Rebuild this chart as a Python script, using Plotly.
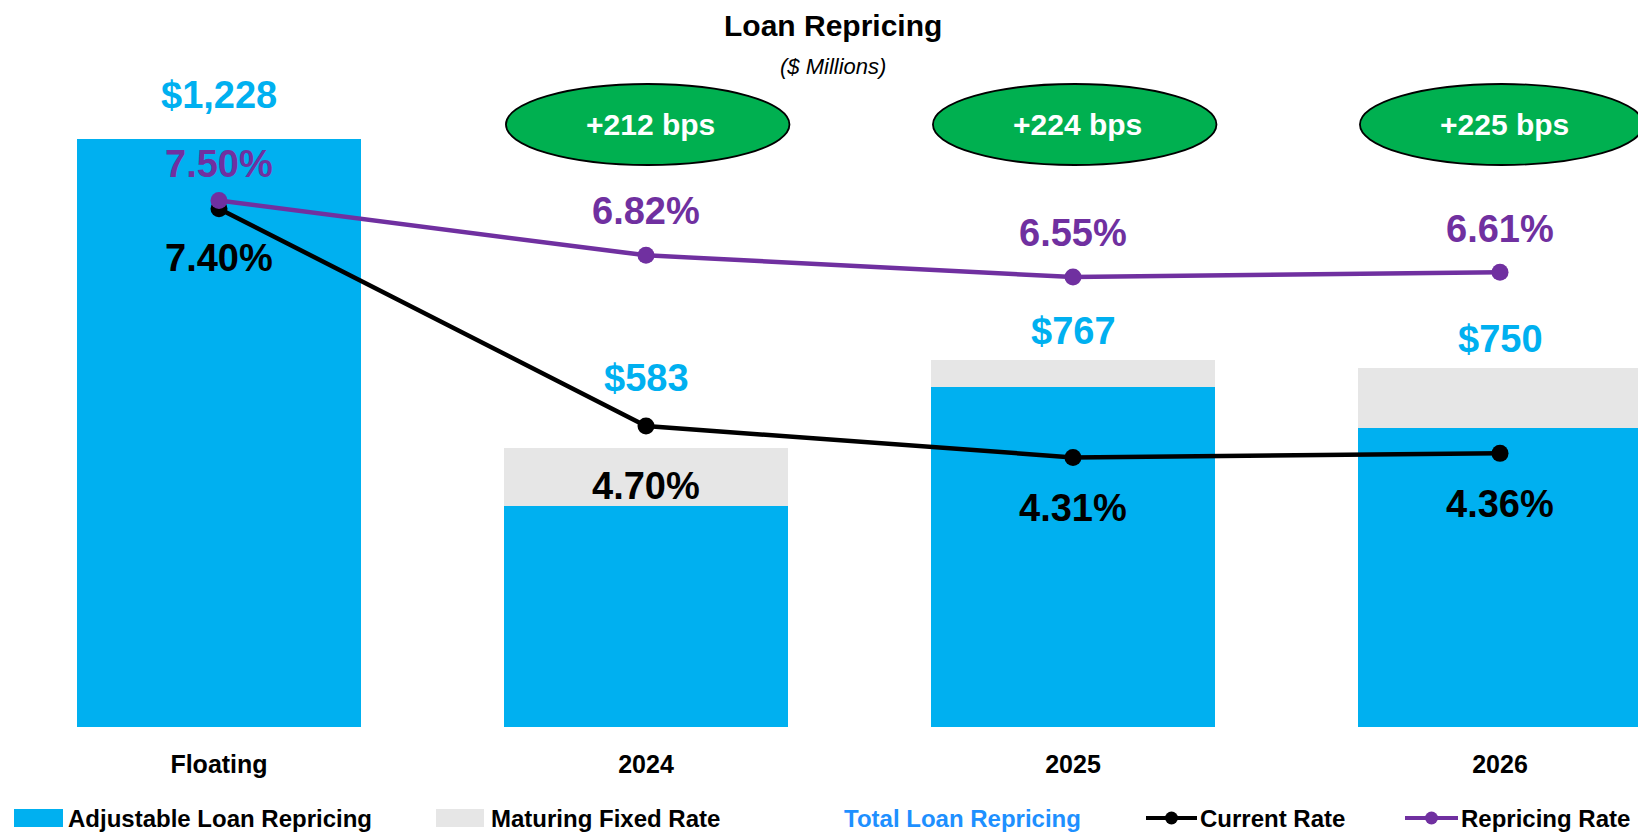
import plotly.graph_objects as go

categories = ["Floating", "2024", "2025", "2026"]
adjustable = [1228, 462, 711, 624]
maturing_fixed = [0, 121, 56, 126]
total = [1228, 583, 767, 750]
current_rate = [7.40, 4.70, 4.31, 4.36]
repricing_rate = [7.50, 6.82, 6.55, 6.61]

# label offsets (px) as placed on the original slide
total_shift = [44, 70, 29, 29]
rep_shift = [37, 44, 44, 43]
cur_shift = [-49, -60, -51, -51]

FONT = "Liberation Sans, Arial, sans-serif"
BLUE = "#00B0F0"
GRAY = "#E6E6E6"
PURPLE = "#7030A0"
GREEN = "#00B050"

W, H = 1638, 835
MB = 108
PH = H - MB
PW = W


def px(x):
    return x / PW


def py(y):
    return 1 - y / PH


fig = go.Figure()
fig.add_trace(go.Bar(x=categories, y=adjustable, name="Adjustable Loan Repricing",
                     marker=dict(color=BLUE, line=dict(width=0))))
fig.add_trace(go.Bar(x=categories, y=maturing_fixed, name="Maturing Fixed Rate",
                     marker=dict(color=GRAY, line=dict(width=0))))
fig.add_trace(go.Scatter(x=categories, y=current_rate, name="Current Rate", yaxis="y2",
                         mode="lines+markers", line=dict(color="black", width=4.5),
                         marker=dict(color="black", size=17)))
fig.add_trace(go.Scatter(x=categories, y=repricing_rate, name="Repricing Rate", yaxis="y2",
                         mode="lines+markers", line=dict(color=PURPLE, width=4.5),
                         marker=dict(color=PURPLE, size=17)))

annotations = []
shapes = []
for i, c in enumerate(categories):
    annotations.append(dict(x=i, y=total[i], yref="y", text=f"${total[i]:,}", showarrow=False,
                            yanchor="middle", yshift=total_shift[i],
                            font=dict(family=FONT, size=38, color=BLUE, weight="bold")))
    annotations.append(dict(x=i, y=repricing_rate[i], yref="y2", text=f"{repricing_rate[i]:.2f}%", showarrow=False,
                            yanchor="middle", yshift=rep_shift[i],
                            font=dict(family=FONT, size=38, color=PURPLE, weight="bold")))
    annotations.append(dict(x=i, y=current_rate[i], yref="y2", text=f"{current_rate[i]:.2f}%", showarrow=False,
                            yanchor="middle", yshift=cur_shift[i],
                            font=dict(family=FONT, size=38, color="black", weight="bold")))
    if i > 0:
        bps = round((repricing_rate[i] - current_rate[i]) * 100)
        shapes.append(dict(type="circle", xref="x", yref="paper", x0=i - 0.328, x1=i + 0.336,
                           y0=py(165), y1=py(84), fillcolor=GREEN, line=dict(color="black", width=1.8),
                           layer="above"))
        annotations.append(dict(x=i + 0.01, xref="x", y=py(124.5), yref="paper", text=f"+{bps} bps",
                                showarrow=False, yanchor="middle",
                                font=dict(family=FONT, size=30, color="white", weight="bold")))

# title
annotations.append(dict(x=px(833), y=py(26), xref="paper", yref="paper", text="Loan Repricing", showarrow=False,
                        yanchor="middle", font=dict(family=FONT, size=30, color="black", weight="bold")))
annotations.append(dict(x=px(833), y=py(66), xref="paper", yref="paper", text="<i>($ Millions)</i>", showarrow=False,
                        yanchor="middle", font=dict(family=FONT, size=22, color="black")))

# legend
LY = 818
leg_font = dict(family=FONT, size=24, color="black", weight="bold")
shapes.append(dict(type="rect", xref="paper", yref="paper", x0=px(14), x1=px(63), y0=py(827), y1=py(809),
                   fillcolor=BLUE, line=dict(width=0)))
annotations.append(dict(x=px(66), y=py(LY), xref="paper", yref="paper", xanchor="left", yanchor="middle",
                        text="Adjustable Loan Repricing", showarrow=False, font=leg_font))
shapes.append(dict(type="rect", xref="paper", yref="paper", x0=px(436), x1=px(484), y0=py(827), y1=py(809),
                   fillcolor=GRAY, line=dict(width=0)))
annotations.append(dict(x=px(489), y=py(LY), xref="paper", yref="paper", xanchor="left", yanchor="middle",
                        text="Maturing Fixed Rate", showarrow=False, font=leg_font))
annotations.append(dict(x=px(842), y=py(LY), xref="paper", yref="paper", xanchor="left", yanchor="middle",
                        text="Total Loan Repricing", showarrow=False,
                        font=dict(family=FONT, size=24, color="#1E90FF", weight="bold")))
for x0, x1, col, name in [(1146, 1197, "black", "Current Rate"), (1405, 1458, PURPLE, "Repricing Rate")]:
    shapes.append(dict(type="line", xref="paper", yref="paper", x0=px(x0), x1=px(x1), y0=py(LY), y1=py(LY),
                       line=dict(color=col, width=4)))
    xm = (x0 + x1) / 2
    shapes.append(dict(type="circle", xref="paper", yref="paper", x0=px(xm - 6.5), x1=px(xm + 6.5),
                       y0=py(LY + 6.5), y1=py(LY - 6.5), fillcolor=col, line=dict(width=0)))
    annotations.append(dict(x=px(x1 + 1), y=py(LY), xref="paper", yref="paper", xanchor="left", yanchor="middle",
                            text=name, showarrow=False, font=leg_font))

# category 0 centred at x=219, 427 px per category
x_lo = -219 / 427
x_hi = x_lo + PW / 427
# bars: 0.4788 px per $M ; rates: 80.5 px per %, 7.50% at y=200.6
y_hi = PH / 0.4788
y2_lo = 7.5 - (PH - 200.6) / 80.5
y2_hi = 7.5 + 200.6 / 80.5

fig.update_layout(
    width=W, height=H, barmode="stack", bargap=0.333, showlegend=False,
    plot_bgcolor="white", paper_bgcolor="white",
    margin=dict(l=0, r=0, t=0, b=MB),
    xaxis=dict(type="category", range=[x_lo, x_hi], showgrid=False, showline=False, ticks="",
               ticklabelstandoff=20, tickfont=dict(family=FONT, size=25, color="black", weight="bold")),
    yaxis=dict(range=[0, y_hi], visible=False),
    yaxis2=dict(range=[y2_lo, y2_hi], overlaying="y", visible=False),
    annotations=annotations, shapes=shapes,
)
# drop the default page margin so the figure fills the window
fig.write_html("out.html", config={"displayModeBar": False},
               post_script="document.body.style.margin='0';")
